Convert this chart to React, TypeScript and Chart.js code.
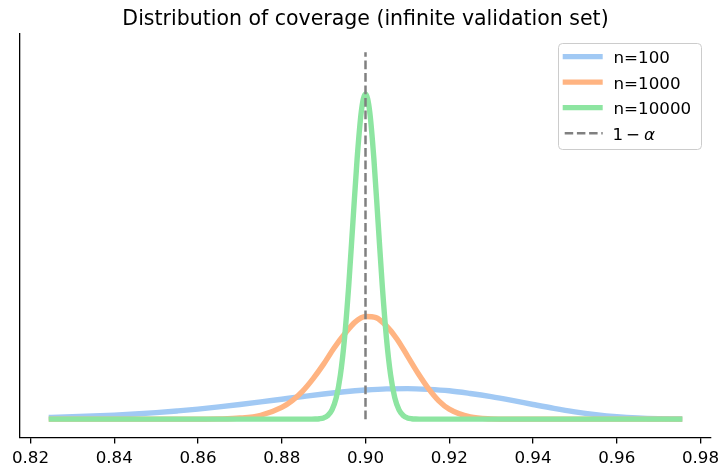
import React, { useEffect, useRef } from "react";
import { Chart, registerables } from "chart.js";

Chart.register(...registerables);

const FONT = '"DejaVu Sans", "Liberation Sans", sans-serif';

const titleText = "Distribution of coverage (infinite validation set)";
const xTicks = [0.82, 0.84, 0.86, 0.88, 0.9, 0.92, 0.94, 0.96, 0.98];
const xMin = 0.8175;
const xMax = 0.9825;
const yMin = -7.5;
const yMax = 157.5;

const seriesLabels = ["n=100", "n=1000", "n=10000"];
const seriesColors = ["#a1c9f4", "#ffb482", "#8de5a1"];
const refColor = "#808080";
const refX = 0.9;
const refTop = 150;

// n = 100
const n100X = [
  0.825, 0.83, 0.835, 0.84, 0.845, 0.85, 0.855, 0.86, 0.865, 0.87, 0.875, 0.88,
  0.885, 0.89, 0.895, 0.9, 0.905, 0.91, 0.915, 0.92, 0.925, 0.93, 0.935, 0.94,
  0.945, 0.95, 0.955, 0.96, 0.965, 0.97, 0.975,
];
const n100Y = [
  0.73, 0.97, 1.27, 1.65, 2.11, 2.67, 3.35, 4.1, 5.0, 5.98, 7.04, 8.15,
  9.25, 10.3, 11.2, 11.9, 12.4, 12.5, 12.2, 11.6, 10.5, 9.2, 7.66, 6.0,
  4.4, 3.0, 1.88, 1.04, 0.5, 0.2, 0.06,
];

// n = 1000
const n1000X = [
  0.825, 0.85, 0.86, 0.865, 0.87, 0.875, 0.88, 0.8825, 0.885, 0.8875, 0.89,
  0.8925, 0.895, 0.8975, 0.9, 0.9025, 0.905, 0.9075, 0.91, 0.9125, 0.915,
  0.9175, 0.92, 0.925, 0.93, 0.935, 0.94, 0.95, 0.975,
];
const n1000Y = [
  0, 0, 0.02, 0.1, 0.45, 1.6, 4.8, 7.6, 11.5, 16.6, 22.5,
  29.1, 34.8, 39.7, 42.0, 41.5, 38.1, 32.8, 25.9, 18.9, 12.6,
  7.5, 4.1, 0.9, 0.13, 0.01, 0, 0, 0,
];

// n = 10000
const n10000X = [
  0.825, 0.88, 0.886, 0.887, 0.888, 0.889, 0.89, 0.891, 0.892, 0.893, 0.894,
  0.895, 0.896, 0.897, 0.898, 0.899, 0.9, 0.901, 0.902, 0.903, 0.904, 0.905,
  0.906, 0.907, 0.908, 0.909, 0.91, 0.911, 0.912, 0.913, 0.914, 0.92, 0.975,
];
const n10000Y = [
  0, 0, 0, 0.01, 0.045, 0.16, 0.51, 1.48, 3.8, 8.7, 18.0,
  33.2, 54.7, 80.7, 106.5, 125.8, 133.0, 125.8, 106.5, 80.7, 54.7, 33.2,
  18.0, 8.7, 3.8, 1.48, 0.51, 0.16, 0.045, 0.01, 0, 0, 0,
];

const toPts = (xs: number[], ys: number[]) => xs.map((x, i) => ({ x, y: ys[i] }));

const overlayPlugin = {
  id: "overlay",
  afterDraw(chart: any) {
    const ctx = chart.ctx as CanvasRenderingContext2D;
    const ca = chart.chartArea;
    ctx.save();
    // title
    ctx.fillStyle = "#000";
    ctx.font = `20.5px ${FONT}`;
    ctx.textAlign = "center";
    ctx.textBaseline = "alphabetic";
    ctx.fillText(titleText, (ca.left + ca.right) / 2, 25);

    // legend box
    const bx = 558.5, by = 43.5, bw = 143, bh = 106, r = 4;
    ctx.beginPath();
    ctx.moveTo(bx + r, by);
    ctx.lineTo(bx + bw - r, by);
    ctx.arcTo(bx + bw, by, bx + bw, by + r, r);
    ctx.lineTo(bx + bw, by + bh - r);
    ctx.arcTo(bx + bw, by + bh, bx + bw - r, by + bh, r);
    ctx.lineTo(bx + r, by + bh);
    ctx.arcTo(bx, by + bh, bx, by + bh - r, r);
    ctx.lineTo(bx, by + r);
    ctx.arcTo(bx, by, bx + r, by, r);
    ctx.closePath();
    ctx.fillStyle = "rgba(255,255,255,0.8)";
    ctx.fill();
    ctx.strokeStyle = "#cccccc";
    ctx.lineWidth = 1;
    ctx.stroke();

    const hx0 = 562.7, hx1 = 602.7, tx = 613.5;
    const rowY = [56.7, 82.2, 107.7, 133.2];
    ctx.textAlign = "left";
    ctx.font = `16.7px ${FONT}`;
    ctx.lineCap = "butt";
    for (let i = 0; i < 3; i++) {
      ctx.beginPath();
      ctx.strokeStyle = seriesColors[i];
      ctx.lineWidth = 5.3;
      ctx.setLineDash([]);
      ctx.moveTo(hx0, rowY[i]);
      ctx.lineTo(hx1, rowY[i]);
      ctx.stroke();
      ctx.fillStyle = "#000";
      ctx.fillText(seriesLabels[i], tx, rowY[i] + 6.6);
    }
    ctx.beginPath();
    ctx.strokeStyle = refColor;
    ctx.lineWidth = 2.5;
    ctx.setLineDash([8.5, 3.7]);
    ctx.moveTo(hx0 + 2, rowY[3]);
    ctx.lineTo(hx1, rowY[3]);
    ctx.stroke();
    ctx.setLineDash([]);
    ctx.fillStyle = "#000";
    ctx.fillText("1", tx - 1, rowY[3] + 6.6);
    ctx.fillText("\u2212", 626, rowY[3] + 6.6);
    ctx.font = `italic 16.7px ${FONT}`;
    ctx.fillText("\u03b1", 644, rowY[3] + 6.6);
    ctx.restore();
  },
};

export default function App() {
  const canvasRef = useRef<HTMLCanvasElement | null>(null);

  useEffect(() => {
    document.body.style.margin = "0";
    const canvas = canvasRef.current;
    if (!canvas) return;
    const lineBase = {
      borderWidth: 5.4,
      pointRadius: 0,
      cubicInterpolationMode: "monotone" as const,
      borderCapStyle: "square" as const,
    };
    const chart = new Chart(canvas, {
      type: "line",
      data: {
        datasets: [
          {
            label: "1 - alpha",
            data: [
              { x: refX, y: 0 },
              { x: refX, y: refTop },
            ],
            borderColor: refColor,
            borderWidth: 2.5,
            borderDash: [8.7, 3.8],
            pointRadius: 0,
            order: 0,
          },
          {
            ...lineBase,
            label: seriesLabels[2],
            data: toPts(n10000X, n10000Y),
            borderColor: seriesColors[2],
            order: 1,
          },
          {
            ...lineBase,
            label: seriesLabels[1],
            data: toPts(n1000X, n1000Y),
            borderColor: seriesColors[1],
            order: 2,
          },
          {
            ...lineBase,
            label: seriesLabels[0],
            data: toPts(n100X, n100Y),
            borderColor: seriesColors[0],
            order: 3,
          },
        ],
      },
      options: {
        animation: false,
        responsive: false,
        devicePixelRatio: 1,
        layout: { padding: { top: 34, right: 10, left: 0, bottom: 0 } },
        plugins: {
          legend: { display: false },
          title: { display: false },
          tooltip: { enabled: false },
        },
        scales: {
          x: {
            type: "linear",
            min: xMin,
            max: xMax,
            afterBuildTicks: (s: any) => {
              s.ticks = xTicks.map((v) => ({ value: v }));
            },
            afterFit: (s: any) => {
              s.height = 27.5;
              s.paddingLeft = 0;
              s.paddingRight = 0;
            },
            ticks: {
              font: { size: 16.7, family: FONT },
              color: "#000",
              padding: 5,
              maxRotation: 0,
              autoSkip: false,
              callback: (v: any) => Number(v).toFixed(2),
            },
            grid: {
              display: true,
              drawOnChartArea: false,
              drawTicks: true,
              tickLength: 6,
              color: "#000",
              lineWidth: 1.3,
            },
            border: { display: true, color: "#000", width: 1.3 },
          },
          y: {
            type: "linear",
            min: yMin,
            max: yMax,
            afterFit: (s: any) => {
              s.width = 20;
              s.paddingTop = 0;
              s.paddingBottom = 0;
            },
            ticks: { display: false },
            grid: { display: false },
            border: { display: true, color: "#000", width: 1.3 },
          },
        },
      },
      plugins: [overlayPlugin],
    });
    return () => chart.destroy();
  }, []);

  return (
    <div style={{ width: 721, height: 465 }}>
      <canvas ref={canvasRef} width={721} height={465} style={{ display: "block" }} />
    </div>
  );
}
